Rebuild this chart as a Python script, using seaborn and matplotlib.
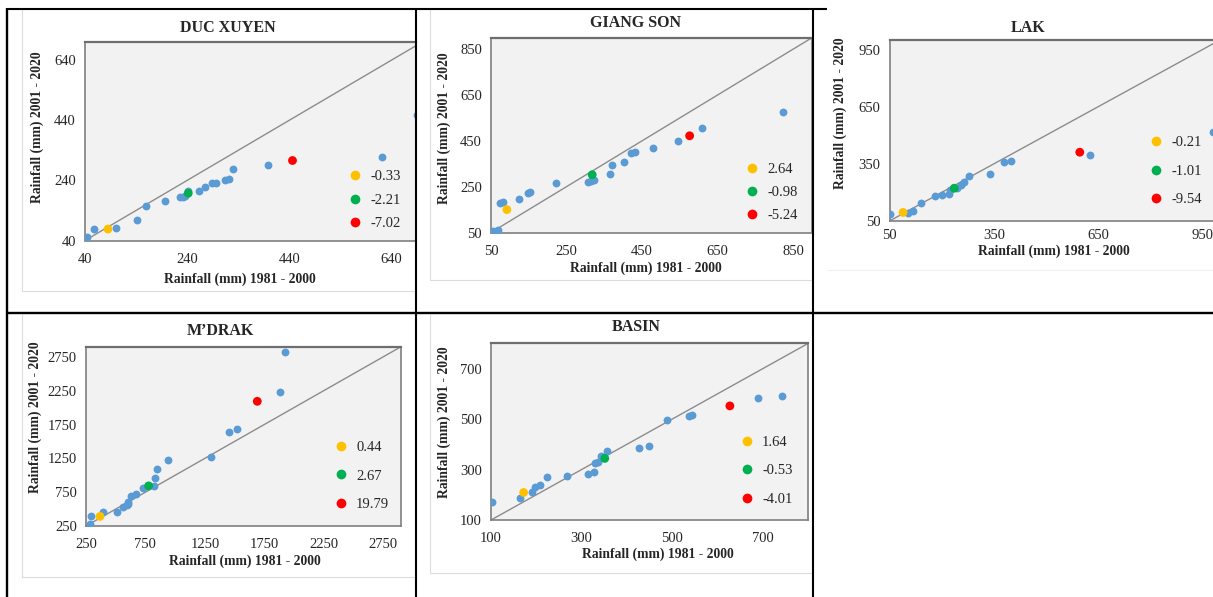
import matplotlib
matplotlib.use("Agg")
import matplotlib.pyplot as plt
import pandas as pd
import seaborn as sns
from matplotlib.lines import Line2D

# ---- data: mean rainfall (mm), 1981-2000 vs 2001-2020 ----
DUC_XUYEN_X = [43, 57, 100, 141, 160, 197, 226, 231, 236, 242, 263, 275, 289, 296, 313, 321, 330, 399, 622, 689]
DUC_XUYEN_Y = [50, 78, 81, 109, 154, 171, 186, 186, 189, 206, 205, 218, 230, 231, 241, 246, 279, 291, 318, 457]
DUC_XUYEN_HX = [85, 242, 446]
DUC_XUYEN_HY = [78, 197, 306]
DUC_XUYEN_LABELS = ["-0.33", "-2.21", "-7.02"]

GIANG_SON_X = [54, 68, 75, 83, 123, 148, 154, 222, 307, 314, 323, 364, 371, 402, 420, 430, 478, 544, 608, 822]
GIANG_SON_Y = [56, 63, 180, 182, 198, 222, 225, 267, 269, 276, 278, 304, 346, 356, 396, 401, 418, 450, 507, 576]
GIANG_SON_HX = [92, 318, 576]
GIANG_SON_HY = [150, 302, 472]
GIANG_SON_LABELS = ["2.64", "-0.98", "-5.24"]

LAK_X = [52, 103, 117, 141, 182, 202, 220, 225, 245, 256, 264, 278, 339, 378, 399, 625, 979]
LAK_Y = [88, 93, 104, 146, 180, 187, 194, 212, 224, 241, 255, 285, 297, 359, 366, 397, 516]
LAK_HX = [89, 236, 597]
LAK_HY = [95, 222, 411]
LAK_LABELS = ["-0.21", "-1.01", "-9.54"]

MDRAK_X = [284, 295, 390, 514, 558, 595, 600, 606, 631, 673, 727, 822, 833, 847, 943, 1304, 1450, 1520, 1879, 1927]
MDRAK_Y = [284, 402, 451, 456, 529, 559, 575, 608, 691, 716, 814, 838, 956, 1098, 1225, 1265, 1637, 1691, 2230, 2819]
MDRAK_HX = [368, 777, 1691]
MDRAK_HY = [392, 843, 2093]
MDRAK_LABELS = ["0.44", "2.67", "19.79"]

BASIN_X = [102, 163, 190, 197, 208, 224, 267, 313, 327, 330, 335, 342, 357, 427, 449, 488, 537, 543, 688, 741]
BASIN_Y = [173, 187, 209, 230, 239, 270, 276, 284, 292, 324, 329, 352, 372, 387, 393, 496, 513, 517, 582, 593]
BASIN_HX = [172, 351, 627]
BASIN_HY = [209, 344, 552]
BASIN_LABELS = ["1.64", "-0.53", "-4.01"]

TITLES = ["DUC XUYEN", "GIANG SON", "LAK", "M\u2019DRAK", "BASIN"]
X_LABEL = "Rainfall (mm) 1981 - 2000"
Y_LABEL = "Rainfall (mm) 2001 - 2020"

BLUE = "#5B9BD5"
MARK_COLORS = ["#FFC000", "#00B050", "#FF0000"]

# ---- styling ----
sns.set_style("white")
plt.rcParams["font.family"] = ["Liberation Serif", "DejaVu Serif"]

W, H = 1213, 597
fig = plt.figure(figsize=(W / 100, H / 100), dpi=100)
TICK_FS = 10.5
LABEL_FS = 9.8
TITLE_FS = 11.5
LEG_FS = 10.5


def fx(px):
    return px / W


def fy(py):
    return 1 - py / H


def panel(title, bx, by, hx, hy, labels, ticks, lo, hi, box, xhi, clip_right,
          title_xy, xlab_xy, ylab_xy, leg_xy, pitch, xpad=9):
    left, top, right, bottom = box
    ax = fig.add_axes([fx(left), fy(bottom), (right - left) / W, (bottom - top) / H])
    ax.set_facecolor("#F2F2F2")
    ax.plot([lo, hi], [lo, hi], color="#8C8C8C", lw=1.0, zorder=1)
    sns.scatterplot(x=bx, y=by, color=BLUE, s=32, linewidth=0, ax=ax, zorder=3, legend=False)
    hl = pd.DataFrame({"x": hx, "y": hy, "k": labels})
    sns.scatterplot(data=hl, x="x", y="y", hue="k", hue_order=labels,
                    palette=dict(zip(labels, MARK_COLORS)), s=40, linewidth=0,
                    ax=ax, zorder=4, legend=False)
    ax.set_xlim(lo, xhi)
    ax.set_ylim(lo, hi)
    ax.set_xticks(ticks)
    ax.set_yticks(ticks)
    ax.set_xticklabels([str(t) for t in ticks])
    ax.set_yticklabels([str(t) for t in ticks])
    ax.tick_params(axis="both", length=0, labelsize=TICK_FS, labelcolor="#262626")
    ax.tick_params(axis="x", pad=xpad)
    ax.tick_params(axis="y", pad=6.5)
    for side, sp in ax.spines.items():
        sp.set_color("#7F7F7F")
        sp.set_linewidth(1.2)
    ax.spines["top"].set_linewidth(1.6)
    ax.spines["top"].set_color("#6E6E6E")
    if clip_right:
        ax.spines["right"].set_visible(False)

    w_px, h_px = right - left, bottom - top
    ax.set_title(title, x=(title_xy[0] - left) / w_px, y=(bottom - title_xy[1]) / h_px,
                 va="center", ha="center", fontsize=TITLE_FS, fontweight="bold", pad=0)
    ax.set_xlabel(X_LABEL, fontsize=LABEL_FS, fontweight="bold")
    ax.set_ylabel(Y_LABEL, fontsize=LABEL_FS, fontweight="bold")
    ax.xaxis.set_label_coords(fx(xlab_xy[0]), fy(xlab_xy[1]), transform=fig.transFigure)
    ax.yaxis.set_label_coords(fx(ylab_xy[0]), fy(ylab_xy[1]), transform=fig.transFigure)
    ax.xaxis.label.set_va("center")
    ax.yaxis.label.set_va("center")

    handles = [Line2D([], [], ls="", marker="o", ms=7.0, mew=0, color=c) for c in MARK_COLORS]
    fs_px = LEG_FS * 100 / 72
    spacing = max((pitch - fs_px * 0.93) / fs_px, 0.05)
    ax.legend(handles, labels, loc="center left",
              bbox_to_anchor=(fx(leg_xy[0] - 0.5 * fs_px), fy(leg_xy[1])),
              bbox_transform=fig.transFigure, frameon=False, borderpad=0,
              borderaxespad=0, handlelength=1.0, handletextpad=0.55,
              labelspacing=spacing, fontsize=LEG_FS)
    return ax


panel(TITLES[0], DUC_XUYEN_X, DUC_XUYEN_Y, DUC_XUYEN_HX, DUC_XUYEN_HY, DUC_XUYEN_LABELS,
      [40, 240, 440, 640], 40, 700, (85, 42, 416, 240.5), 687.7, True,
      (228, 28), (240, 279), (37, 127), (355, 200), 24)

panel(TITLES[1], GIANG_SON_X, GIANG_SON_Y, GIANG_SON_HX, GIANG_SON_HY, GIANG_SON_LABELS,
      [50, 250, 450, 650, 850], 50, 900, (491, 37.7, 812, 232.5), 900, False,
      (635, 23), (646, 268), (444.3, 128.5), (752, 192.7), 23.5)

panel(TITLES[2], LAK_X, LAK_Y, LAK_HX, LAK_HY, LAK_LABELS,
      [50, 350, 650, 950], 50, 1000, (889.5, 40, 1213, 221), 980, True,
      (1027.7, 28.3), (1054, 251), (840, 113), (1155.7, 171), 29, xpad=6)

panel(TITLES[3], MDRAK_X, MDRAK_Y, MDRAK_HX, MDRAK_HY, MDRAK_LABELS,
      [250, 750, 1250, 1750, 2250, 2750], 250, 2900, (86, 346.7, 401, 526), 2900, False,
      (220, 331), (245, 561.7), (35, 416.7), (340.7, 476), 29)

panel(TITLES[4], BASIN_X, BASIN_Y, BASIN_HX, BASIN_HY, BASIN_LABELS,
      [100, 300, 500, 700], 100, 800, (491, 343.3, 808.3, 520), 800, False,
      (636, 326.7), (657.7, 554.3), (444.3, 422.5), (746.7, 470.7), 28.7)


def fig_line(xs, ys, color, lw, z):
    fig.add_artist(Line2D([fx(v) for v in xs], [fy(v) for v in ys], color=color,
                          lw=lw, zorder=z, transform=fig.transFigure,
                          solid_capstyle="butt"))


# light chart-area frames
FRAME = "#DCDCDC"
fig_line([21.5, 21.5, 416], [9, 291, 291], FRAME, 0.8, 5)
fig_line([430, 430, 813], [9, 280, 280], FRAME, 0.8, 5)
fig_line([827, 1213], [270, 270], "#F0F0F0", 0.8, 5)
fig_line([21.5, 21.5, 416], [314, 577, 577], FRAME, 0.8, 5)
fig_line([430, 430, 813], [314, 573, 573], FRAME, 0.8, 5)

# table grid
fig_line([7, 827], [8.5, 8.5], "black", 1.5, 10)
fig_line([7, 1213], [313, 313], "black", 1.7, 10)
fig_line([7, 7], [8, 597], "black", 1.7, 10)
fig_line([416, 416], [8, 597], "black", 1.5, 10)
fig_line([813, 813], [8, 597], "black", 1.5, 10)

fig.savefig("out.png", dpi=100, facecolor="white")
